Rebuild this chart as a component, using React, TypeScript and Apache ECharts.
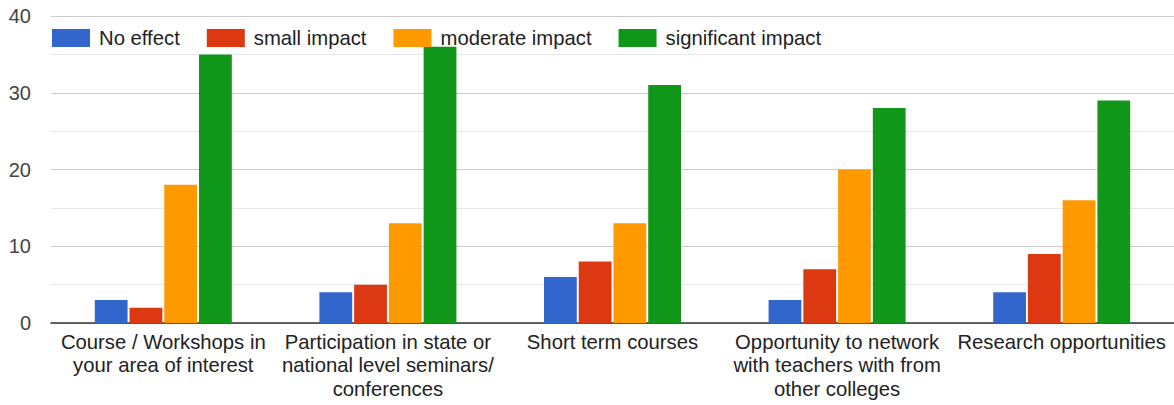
import React, { useEffect, useRef } from "react";
import * as echarts from "echarts";

const categories = [
  "Course / Workshops in\nyour area of interest",
  "Participation in state or\nnational level seminars/\nconferences",
  "Short term courses",
  "Opportunity to network\nwith teachers with from\nother colleges",
  "Research opportunities",
];
const seriesNames = ["No effect", "small impact", "moderate impact", "significant impact"];
const noEffect = [3, 4, 6, 3, 4];
const smallImpact = [2, 5, 8, 7, 9];
const moderateImpact = [18, 13, 13, 20, 16];
const significantImpact = [35, 36, 31, 28, 29];
const colors = ["#3366cc", "#dc3912", "#ff9900", "#109618"];

export default function App() {
  const ref = useRef<HTMLDivElement>(null);
  useEffect(() => {
    if (!ref.current) return;
    const chart = echarts.init(ref.current, undefined, { renderer: "svg" });
    const values = [noEffect, smallImpact, moderateImpact, significantImpact];
    chart.setOption({
      animation: false,
      textStyle: { fontFamily: "Liberation Sans, Arial, sans-serif" },
      legend: {
        left: 52,
        top: 28,
        padding: 0,
        itemWidth: 38,
        itemHeight: 18,
        itemGap: 27,
        icon: "rect",
        textStyle: { fontSize: 20.3, color: "#222", padding: [0, 0, 0, 4] },
        data: seriesNames,
      },
      grid: { left: 51, right: 0, top: 16, bottom: 82, containLabel: false },
      xAxis: {
        type: "category",
        data: categories,
        axisTick: { show: false },
        axisLine: { lineStyle: { color: "#333", width: 1.5 } },
        axisLabel: {
          interval: 0,
          fontSize: 20.3,
          color: "#222",
          lineHeight: 23.5,
          margin: 7,
          verticalAlign: "top",
        },
      },
      yAxis: {
        type: "value",
        min: 0,
        max: 40,
        interval: 10,
        axisLabel: { fontSize: 20, color: "#444", margin: 20 },
        axisLine: { show: false },
        axisTick: { show: false },
        splitLine: { lineStyle: { color: "#cccccc", width: 1 } },
        minorTick: { show: false, splitNumber: 2 },
        minorSplitLine: { show: true, lineStyle: { color: "#e8e8e8", width: 1 } },
      },
      series: seriesNames.map((name, i) => ({
        name,
        type: "bar",
        data: values[i],
        barCategoryGap: "39%",
        barGap: "6%",
        itemStyle: { color: colors[i] },
      })),
    });
    return () => chart.dispose();
  }, []);
  return (
    <div
      ref={ref}
      style={{ position: "fixed", left: 0, top: 0, width: 1174, height: 405, background: "#fff" }}
    />
  );
}
